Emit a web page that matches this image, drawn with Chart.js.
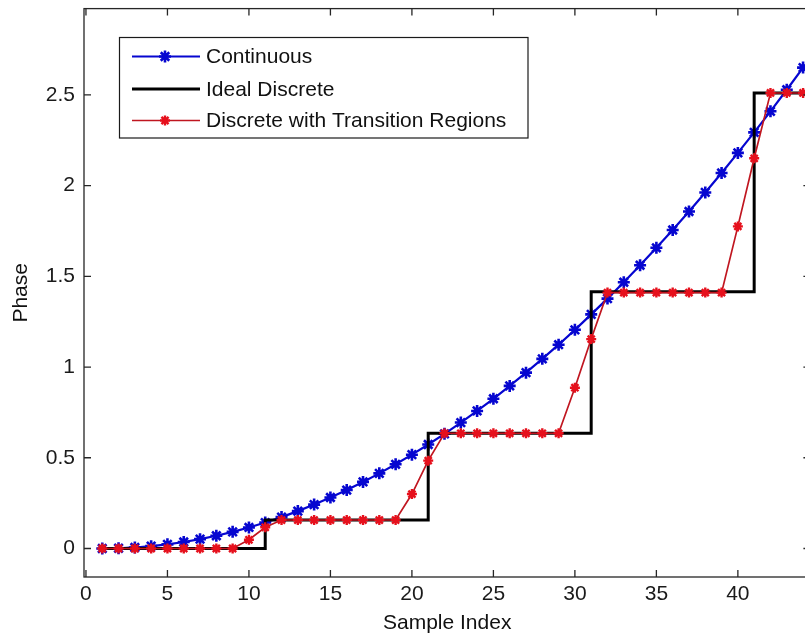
<!DOCTYPE html>
<html><head><meta charset="utf-8">
<script src="https://cdn.jsdelivr.net/npm/chart.js@4/dist/chart.umd.min.js"></script>
<style>
html,body{margin:0;padding:0;overflow:hidden;background:#fff;width:805px;height:639px}
#wrap{width:805px;height:639px;overflow:hidden;position:relative}
canvas{display:block}
</style></head>
<body>
<div id="wrap"><canvas id="c" width="819" height="639" style="width:819px;height:639px"></canvas></div>
<script>
// ---- data ----
const sampleIndex = [1,2,3,4,5,6,7,8,9,10,11,12,13,14,15,16,17,18,19,20,21,22,23,24,25,26,27,28,29,30,31,32,33,34,35,36,37,38,39,40,41,42,43,44];
const continuousPhase = [0,0.0014,0.0057,0.0129,0.0229,0.0358,0.0516,0.0702,0.0917,0.116,0.143,0.173,0.206,0.242,0.281,0.322,0.367,0.414,0.464,0.517,0.573,0.632,0.694,0.758,0.825,0.896,0.969,1.045,1.123,1.205,1.290,1.377,1.467,1.561,1.657,1.755,1.857,1.962,2.069,2.180,2.293,2.409,2.528,2.650];
const idealDiscretePhase = [0,0,0,0,0,0,0,0,0,0,0.157,0.157,0.157,0.157,0.157,0.157,0.157,0.157,0.157,0.157,0.635,0.635,0.635,0.635,0.635,0.635,0.635,0.635,0.635,0.635,1.415,1.415,1.415,1.415,1.415,1.415,1.415,1.415,1.415,1.415,2.51,2.51,2.51,2.51];
const transitionPhase = [0,0,0,0,0,0,0,0,0,0.048,0.117,0.157,0.157,0.157,0.157,0.157,0.157,0.157,0.157,0.300,0.484,0.635,0.635,0.635,0.635,0.635,0.635,0.635,0.635,0.886,1.154,1.41,1.41,1.41,1.41,1.41,1.41,1.41,1.41,1.775,2.15,2.51,2.51,2.51];
const seriesLabels = ['Continuous','Ideal Discrete','Discrete with Transition Regions'];
const xTickValues = [0,5,10,15,20,25,30,35,40];
const yTickValues = [0,0.5,1,1.5,2,2.5];
const xTitle = 'Sample Index';
const yTitle = 'Phase';

const FONT = "'Liberation Sans', Arial, Helvetica, sans-serif";
const FSIZE = 21;
const BLUE = '#0606d0', RED_LINE = '#c01620', RED_MARK = '#e6101c', BLACK = '#000000';

const toPts = vals => sampleIndex.map((x, i) => ({x, y: vals[i]}));

function drawStar(ctx, x, y, r, color, lw) {
  ctx.save();
  ctx.strokeStyle = color; ctx.lineWidth = lw;
  ctx.beginPath();
  for (let k = 0; k < 4; k++) {
    const a = k * Math.PI / 4;
    ctx.moveTo(x - r * Math.cos(a), y - r * Math.sin(a));
    ctx.lineTo(x + r * Math.cos(a), y + r * Math.sin(a));
  }
  ctx.stroke();
  ctx.restore();
}

const framePlugin = {
  id: 'frame',
  afterDatasetsDraw(chart) {
    const {ctx, chartArea: a, scales: {x, y}} = chart;
    ctx.save();
    ctx.strokeStyle = '#262626';
    ctx.lineWidth = 1.3;
    ctx.strokeRect(a.left, a.top, a.right - a.left, a.bottom - a.top);
    const L = 7;
    ctx.beginPath();
    xTickValues.forEach(v => {
      const p = x.getPixelForValue(v);
      ctx.moveTo(p, a.bottom); ctx.lineTo(p, a.bottom - L);
      ctx.moveTo(p, a.top); ctx.lineTo(p, a.top + L);
    });
    yTickValues.forEach(v => {
      const p = y.getPixelForValue(v);
      ctx.moveTo(a.left, p); ctx.lineTo(a.left + L, p);
      ctx.moveTo(a.right, p); ctx.lineTo(a.right - L, p);
    });
    ctx.stroke();
    ctx.restore();
  },
  afterDraw(chart) {
    const ctx = chart.ctx;
    const bx = 119.5, by = 37.5, bw = 408.5, bh = 100.5;
    ctx.save();
    ctx.fillStyle = '#fff';
    ctx.fillRect(bx, by, bw, bh);
    ctx.strokeStyle = '#1a1a1a';
    ctx.lineWidth = 1.2;
    ctx.strokeRect(bx, by, bw, bh);
    const rows = [56.5, 89, 120.5];
    const ds = chart.data.datasets;
    ctx.font = FSIZE + 'px ' + FONT;
    ctx.textBaseline = 'middle';
    ctx.textAlign = 'left';
    rows.forEach((ry, i) => {
      const d = ds[i];
      ctx.strokeStyle = d.borderColor;
      ctx.lineWidth = d.borderWidth;
      ctx.beginPath(); ctx.moveTo(132, ry); ctx.lineTo(200, ry); ctx.stroke();
      if (d.pointRadius > 0) drawStar(ctx, 165, ry, d.pointRadius, d.pointBorderColor, d.pointBorderWidth);
      ctx.fillStyle = '#111';
      ctx.fillText(d.label, 206, ry + 1);
    });
    ctx.restore();
  }
};

new Chart(document.getElementById('c'), {
  type: 'line',
  data: {
    datasets: [
      {label: seriesLabels[0], data: toPts(continuousPhase), borderColor: BLUE, backgroundColor: BLUE,
       borderWidth: 2.2, pointStyle: 'star', pointRadius: 6, pointBorderWidth: 2.6,
       pointBorderColor: BLUE, pointBackgroundColor: BLUE, order: 2, tension: 0},
      {label: seriesLabels[1], data: toPts(idealDiscretePhase), borderColor: BLACK, backgroundColor: BLACK,
       borderWidth: 3, pointRadius: 0, stepped: 'before', order: 1},
      {label: seriesLabels[2], data: toPts(transitionPhase), borderColor: RED_LINE, backgroundColor: RED_MARK,
       borderWidth: 1.7, pointStyle: 'star', pointRadius: 5, pointBorderWidth: 2.4,
       pointBorderColor: RED_MARK, pointBackgroundColor: RED_MARK, order: 0, tension: 0}
    ]
  },
  options: {
    responsive: false,
    animation: false,
    devicePixelRatio: 1,
    layout: {padding: {top: 7, right: 2, left: 0, bottom: 0}},
    plugins: {legend: {display: false}, tooltip: {enabled: false}},
    scales: {
      x: {
        type: 'linear', min: -0.12, max: 44.45,
        grid: {display: false, drawTicks: false}, border: {display: false},
        afterBuildTicks: s => { s.ticks = xTickValues.map(v => ({value: v})); },
        afterFit: s => { s.height = 62; s.paddingLeft = 0; s.paddingRight = 0; },
        ticks: {padding: 5, color: '#1a1a1a', font: {family: FONT, size: FSIZE}, maxRotation: 0,
                callback: v => String(v)},
        title: {display: true, text: xTitle, color: '#111', font: {family: FONT, size: FSIZE},
                padding: {top: 0, bottom: 3}}
      },
      y: {
        type: 'linear', min: -0.157, max: 2.975,
        grid: {display: false, drawTicks: false}, border: {display: false},
        afterBuildTicks: s => { s.ticks = yTickValues.map(v => ({value: v})); },
        afterFit: s => { s.width = 84; s.paddingTop = 0; s.paddingBottom = 0; },
        ticks: {padding: 9, color: '#1a1a1a', font: {family: FONT, size: FSIZE},
                callback: v => String(v)},
        title: {display: true, text: yTitle, color: '#111', font: {family: FONT, size: FSIZE},
                padding: {top: 9, bottom: 0}}
      }
    }
  },
  plugins: [framePlugin]
});
</script>
</body></html>
